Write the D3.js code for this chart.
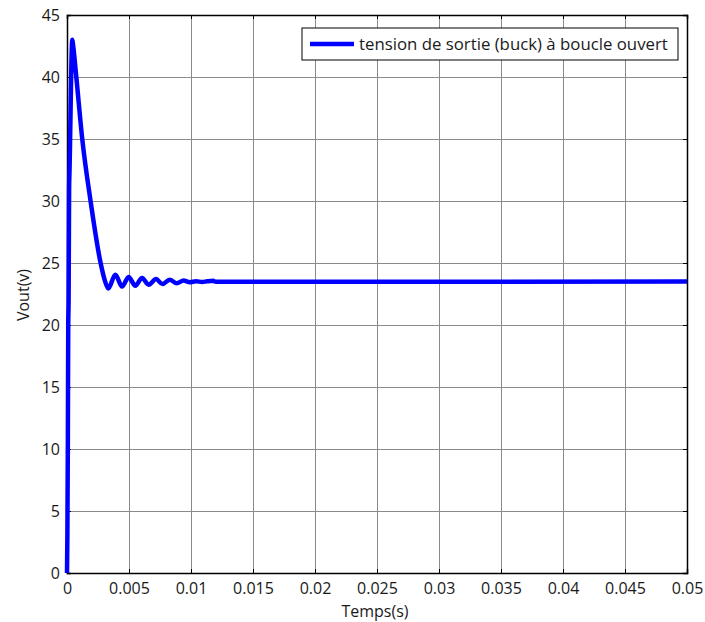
<!DOCTYPE html>
<html>
<head>
<meta charset="utf-8">
<script src="https://cdn.jsdelivr.net/npm/d3@7"></script>
<style>
  body { margin: 0; background: #fff; }
  text { font-family: "Open Sans", sans-serif; }
</style>
</head>
<body>
<svg id="chart" width="705" height="622"></svg>
<script>
// time (s) and output voltage (V)
var timeVals = [0, 0.00003, 0.00007, 0.0001, 0.00013, 0.00017, 0.0002, 0.00043, 0.0005,
    0.00075, 0.00123, 0.0019, 0.00271, 0.00305, 0.00333,
    0.0039, 0.00444, 0.00497, 0.00551, 0.00605, 0.00658, 0.00718, 0.0077, 0.00828,
    0.00885, 0.0094, 0.0099, 0.0104, 0.0109, 0.0113, 0.0118, 0.012, 0.05]
var voutVals = [0, 3, 11, 20, 22, 31, 32.3, 43, 42.5,
    40, 35, 30, 25, 23.6, 22.95,
    24.06, 23.1, 23.87, 23.17, 23.79, 23.25, 23.7, 23.3, 23.65,
    23.37, 23.58, 23.45, 23.53, 23.47, 23.52, 23.56, 23.48, 23.5]

var xTickVals = [0, 0.005, 0.01, 0.015, 0.02, 0.025, 0.03, 0.035, 0.04, 0.045, 0.05]
var xTickLabels = ["0", "0.005", "0.01", "0.015", "0.02", "0.025", "0.03", "0.035", "0.04", "0.045", "0.05"]
var yTickVals = [0, 5, 10, 15, 20, 25, 30, 35, 40, 45]

var legendLabel = "tension de sortie (buck) à boucle ouvert"

var margin = { top: 15, right: 18, bottom: 49, left: 67 }
var width = 705 - margin.left - margin.right
var height = 622 - margin.top - margin.bottom

var svg = d3.select('#chart')
var g = svg.append('g').attr('transform', 'translate(' + margin.left + ',' + margin.top + ')')

var x = d3.scaleLinear().domain([0, 0.05]).range([0, width])
var y = d3.scaleLinear().domain([0, 45]).range([height, 0])

var data = timeVals.map(function (t, i) { return { t: t, v: voutVals[i] } })

// grid
g.append('g').selectAll('line')
    .data(xTickVals.slice(1, -1))
    .enter().append('line')
    .attr('x1', function (d) { return Math.round(x(d)) + 0.5 })
    .attr('x2', function (d) { return Math.round(x(d)) + 0.5 })
    .attr('y1', 0).attr('y2', height)
    .attr('stroke', '#8a8a8a').attr('stroke-width', 1)
g.append('g').selectAll('line')
    .data(yTickVals.slice(1, -1))
    .enter().append('line')
    .attr('y1', function (d) { return Math.round(y(d)) + 0.5 })
    .attr('y2', function (d) { return Math.round(y(d)) + 0.5 })
    .attr('x1', 0).attr('x2', width)
    .attr('stroke', '#8a8a8a').attr('stroke-width', 1)

// axes, ticks inside like matlab
var fmt = function (d) { return xTickLabels[xTickVals.indexOf(d)] }
g.append('g').attr('transform', 'translate(0,' + height + ')')
    .call(d3.axisBottom(x).tickValues(xTickVals).tickFormat(fmt).tickSize(-4).tickPadding(10))
g.append('g')
    .call(d3.axisLeft(y).tickValues(yTickVals).tickFormat(d3.format('d')).tickSize(-4).tickPadding(7))
g.append('g')
    .call(d3.axisTop(x).tickValues(xTickVals).tickFormat('').tickSize(-4))
g.append('g').attr('transform', 'translate(' + width + ',0)')
    .call(d3.axisRight(y).tickValues(yTickVals).tickFormat('').tickSize(-4))

g.selectAll('.domain').attr('stroke', '#000').attr('stroke-width', 1.5)
g.selectAll('.tick text').attr('font-size', 16).attr('fill', '#1a1a1a').attr('font-family', '"Open Sans", sans-serif')

// the curve
g.append('path')
    .datum(data)
    .attr('fill', 'none')
    .attr('stroke', '#0000ff')
    .attr('stroke-width', 4.5)
    .attr('stroke-linejoin', 'round')
    .attr('d', d3.line()
        .x(function (d) { return x(d.t) })
        .y(function (d) { return y(d.v) })
        .curve(d3.curveMonotoneX)
    )

// axis titles
svg.append('text')
    .attr('x', 375)
    .attr('y', 617)
    .attr('text-anchor', 'middle')
    .attr('font-size', 16).attr('fill', '#1a1a1a')
    .text('Temps(s)')
svg.append('text')
    .attr('transform', 'translate(29,' + 295 + ') rotate(-90)')
    .attr('text-anchor', 'middle')
    .attr('font-size', 16).attr('fill', '#1a1a1a')
    .text('Vout(v)')

// legend
var legend = g.append('g').attr('transform', 'translate(' + (302 - margin.left) + ',' + (28 - margin.top) + ')')
legend.append('rect')
    .attr('width', 376).attr('height', 32)
    .attr('fill', '#fff').attr('stroke', '#000').attr('stroke-width', 1)
legend.append('line')
    .attr('x1', 8).attr('x2', 52).attr('y1', 16).attr('y2', 16)
    .attr('stroke', '#0000ff').attr('stroke-width', 4.5)
legend.append('text')
    .attr('x', 57).attr('y', 22)
    .attr('font-size', 16.8).attr('fill', '#1a1a1a')
    .text(legendLabel)
</script>
</body>
</html>
